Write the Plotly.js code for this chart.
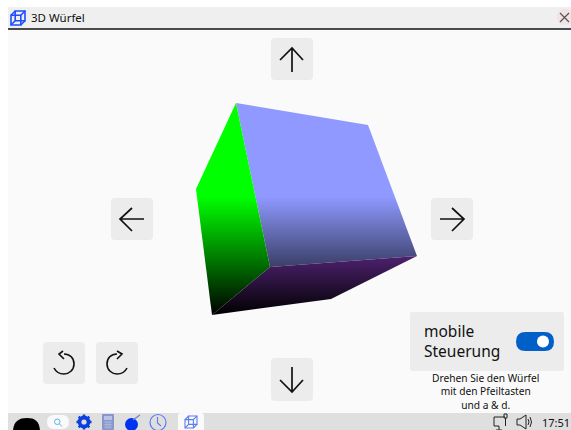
<!DOCTYPE html>
<html><head><meta charset="utf-8">
<script src="https://cdn.plot.ly/plotly-3.0.1.min.js"></script>
<style>html,body{margin:0;padding:0;background:#fff;overflow:hidden}#c{width:571px;height:430px}</style>
</head><body><div id="c"></div>
<script>
// Cube faces
const faceNames = ['oben', 'links', 'unten'];
const faceColors = ['#8f99ff', '#00ff00', '#9b42de'];
const faceX = [[236,368,417,270],[236,196,212,270],[270,417,331,212]];
const faceY = [[103,125,256,267],[103,189,315,267],[267,256,299,315]];
const shadeStart = 197, shadeEnd = 315;

// Interface labels
const titleText = '3D Würfel';
const panelLines = ['mobile', 'Steuerung'];
const hintLines = ['Drehen Sie den Würfel', 'mit den Pfeiltasten', 'und a &amp; d.'];
const clockText = '17:51';

const F = 'Noto Sans, Open Sans, sans-serif';
function rr(x0,y0,x1,y1,r){return `M${x0+r},${y0} L${x1-r},${y0} Q${x1},${y0} ${x1},${y0+r} L${x1},${y1-r} Q${x1},${y1} ${x1-r},${y1} L${x0+r},${y1} Q${x0},${y1} ${x0},${y1-r} L${x0},${y0+r} Q${x0},${y0} ${x0+r},${y0} Z`;}
function fill(path,color){return {type:'path',path,xref:'x',yref:'y',fillcolor:color,line:{width:0},layer:'below'};}
function stroke(path,color,w){return {type:'path',path,xref:'x',yref:'y',line:{color,width:w},layer:'below'};}
function disc(cx,cy,r,color){return {type:'circle',xref:'x',yref:'y',x0:cx-r,x1:cx+r,y0:cy-r,y1:cy+r,fillcolor:color,line:{width:0},layer:'below'};}
function cubeIcon(x,y,s,c,w){const d=s*0.3,a=s-d;return [
 stroke(`M${x},${y+d} L${x+a},${y+d} L${x+a},${y+s} L${x},${y+s} Z`,c,w),
 stroke(`M${x+d},${y} L${x+s},${y} L${x+s},${y+a} L${x+d},${y+a} Z`,c,w),
 stroke(`M${x},${y+d} L${x+d},${y} M${x+a},${y+d} L${x+s},${y} M${x+a},${y+s} L${x+s},${y+a} M${x},${y+s} L${x+d},${y+a}`,c,w)];}

const K='#111';
const shapes=[
 fill('M8,7 L571,7 L571,29 L8,29 Z','#efefef'),
 fill('M8,30 L571,30 L571,413 L8,413 Z','#fafafa'),
 stroke('M8,29 L571,29','#111',1.5),
 ...cubeIcon(11,11,14,'#1f4dff',1.6),
 fill('M557,17 Q557,9 565,9 Q571,9 571,12 L571,22 Q571,25 565,25 Q557,25 557,17 Z','#f1e3e3'),
 stroke('M560,13 L569,22 M569,13 L560,22','#555',1.2),
 // buttons
 fill(rr(271,38,313,80,4),'#ececec'),
 fill(rr(111,198,153,240,4),'#ececec'),
 fill(rr(431,198,473,240,4),'#ececec'),
 fill(rr(271,358,313,401,4),'#ececec'),
 fill(rr(43,342,85,384,4),'#ececec'),
 fill(rr(96,342,138,384,4),'#ececec'),
 stroke('M280,60 L292,48 L303,60 M292,48 L292,72',K,1.7),
 stroke('M132,208 L120,219 L132,231 M120,219 L144,219',K,1.7),
 stroke('M452,208 L464,219 L452,231 M464,219 L440,219',K,1.7),
 stroke('M280,380 L292,392 L303,380 M292,392 L292,367',K,1.7),
 stroke('M64,354 C70,354 74,358 74,364 C74,370 69,374 64,374 C60,374 56,372 54,368',K,1.6),
 stroke('M63,351 L59,354 L64,359',K,1.6),
 stroke('M117,354 C111,354 107,358 107,364 C107,370 112,374 117,374 C121,374 125,372 127,368',K,1.6),
 stroke('M117,351 L122,354 L117,359',K,1.6),
 // panel
 fill(rr(410,312,564,371,2),'#ececec'),
 fill(rr(516,332,554,351,9.5),'#0060c8'),
 disc(543,341.5,6,'#fff'),
 // taskbar
 fill('M8,413 L571,413 L571,430 L8,430 Z','#dfdfdf'),
 fill('M13,430 C14,421 19,418 27,418 C35,418 39,421 40,430 Z','#000'),
 fill(rr(47,415,69,429,7),'#fafafa'),
 {type:'circle',xref:'x',yref:'y',x0:54.5,x1:60,y0:419,y1:424.5,line:{color:'#58b4e8',width:1},layer:'below'},
 stroke('M59.5,424 L62,426.5','#58b4e8',1),
 stroke('M84,414.5 L84,429.5 M76.5,422 L91.5,422 M78.7,416.7 L89.3,427.3 M89.3,416.7 L78.7,427.3','#0b3fe0',2.4),
 disc(84,422,6.4,'#0b3fe0'),
 disc(84,422,2.6,'#dfdfdf'),
 fill(rr(102,414,114,430,1),'#8896cc'),
 fill('M104,416 L112,416 L112,420 L104,420 Z','#b9c3e3'),
 stroke('M104,422 L112,422 M104,424.5 L112,424.5 M104,427 L112,427 M106,421 L106,429 M108,421 L108,429 M110,421 L110,429','#b9c3e3',0.6),
 disc(131.5,424.5,6.5,'#0033ee'),
 stroke('M133,420 L140,415','#6f7fd8',1.2),
 {type:'circle',xref:'x',yref:'y',x0:150,x1:166,y0:414.5,y1:430.5,line:{color:'#5b7df0',width:1.2},layer:'below'},
 stroke('M157.5,417 L157.5,423 L161,426','#5b7df0',1.1),
 fill('M178,430 L178,416 Q178,413 181,413 L201,413 Q204,413 204,416 L204,430 Z','#fafafa'),
 ...cubeIcon(185,416,12,'#5b7df0',1.1),
 // tray icons
 stroke('M494,417 L505,417 M494,417 L494,426 L499,426 M499,426 L499,430 M496,430 L502,430','#222',1),
 stroke('M504,414 L507,414 L507,418 L504,418 Z M505.5,418 L505.5,426','#222',1),
 stroke('M517,419 L520,419 L526,415 L526,429 L520,425 L517,425 Z','#222',1),
 stroke('M528,419 Q530,422 528,425 M530,417 Q533,422 530,427','#222',1)
];

const traces=faceNames.map((n,i)=>({
 type:'scatter',mode:'lines',name:n,x:faceX[i],y:faceY[i],fill:'toself',line:{width:0},hoverinfo:'skip',
 fillcolor:faceColors[i],
 fillgradient:{type:'vertical',start:shadeStart,stop:shadeEnd,colorscale:[[0,faceColors[i]],[1,'#000000']]}
}));

function ann(text,x,y,size,anchor,align){return {text,x,y,xref:'x',yref:'y',showarrow:false,xanchor:anchor||'left',align:align||'left',yanchor:'middle',font:{family:F,size,color:'#111'}};}
const annotations=[
 ann(titleText,28.5,17.5,11.5),
 ann(panelLines.join('<br>'),421.5,340.5,15.5),
 ann(hintLines.join('<br>'),486,391,10.2,'center','center'),
 ann(clockText,539.5,422,11)
];

Plotly.newPlot('c',traces,{
 width:571,height:430,margin:{l:0,r:0,t:0,b:0},showlegend:false,
 paper_bgcolor:'#ffffff',plot_bgcolor:'rgba(0,0,0,0)',
 xaxis:{range:[0,571],visible:false,fixedrange:true},
 yaxis:{range:[430,0],visible:false,fixedrange:true},
 shapes,annotations
},{displayModeBar:false,staticPlot:true});
</script></body></html>
